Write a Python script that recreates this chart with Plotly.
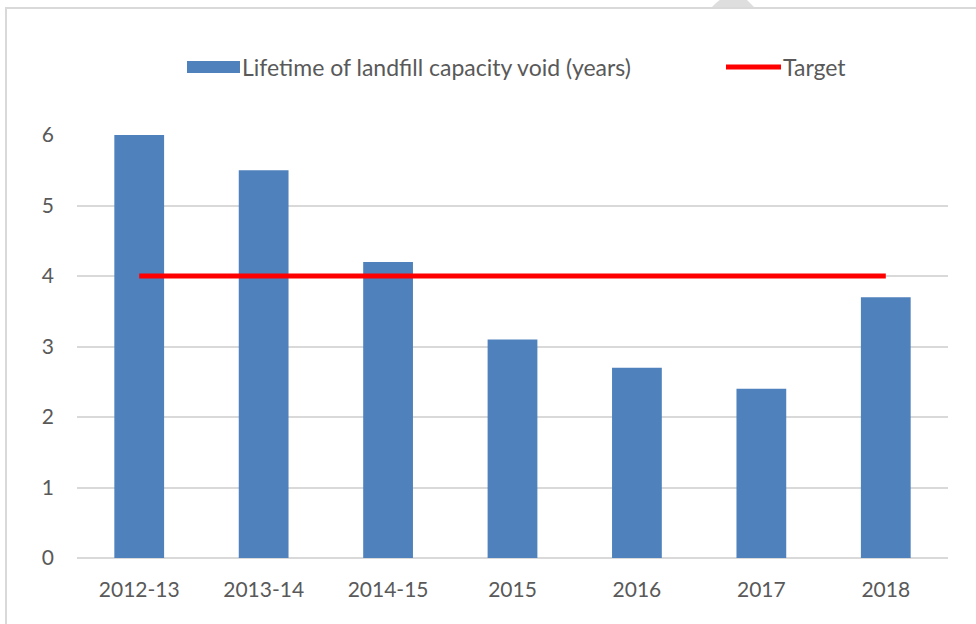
import plotly.graph_objects as go

categories = ["2012-13", "2013-14", "2014-15", "2015", "2016", "2017", "2018"]
lifetime = [6, 5.5, 4.2, 3.1, 2.7, 2.4, 3.7]
target = [4, 4, 4, 4, 4, 4, 4]
series_names = ["Lifetime of landfill capacity void (years)", "Target"]

W, H = 976, 624
L, R, T, B = 77, 28, 135, 66
pw, ph = W - L - R, H - T - B

def px(x):
    return (x - L) / pw

def py(y):
    return (H - B - y) / ph

font_family = "Lato, Carlito, Calibri, sans-serif"
grey = "#595959"

fig = go.Figure()
fig.add_trace(go.Bar(x=categories, y=lifetime, name=series_names[0],
                     marker=dict(color="#4f81bd", line=dict(width=0)),
                     showlegend=False))
fig.add_trace(go.Scatter(x=categories, y=target, name=series_names[1], mode="lines",
                         line=dict(color="#ff0000", width=5), showlegend=False))

shapes = [
    # chart border
    dict(type="rect", xref="paper", yref="paper", x0=px(6), x1=px(1100), y0=py(700), y1=py(8),
         line=dict(color="#d9d9d9", width=2), fillcolor="rgba(0,0,0,0)", layer="below"),
    # grey blob above the border
    dict(type="path", xref="paper", yref="paper",
         path=f"M{px(712)},{py(7)} L{px(716)},{py(3)} L{px(721)},{py(-1)} L{px(746)},{py(-1)} L{px(750)},{py(3)} L{px(754)},{py(7)} Z",
         fillcolor="#dedede", line=dict(width=0)),
    # legend symbols
    dict(type="rect", xref="paper", yref="paper", x0=px(187), x1=px(240), y0=py(73), y1=py(61),
         fillcolor="#4f81bd", line=dict(width=0)),
    dict(type="line", xref="paper", yref="paper", x0=px(726), x1=px(781), y0=py(67), y1=py(67),
         line=dict(color="#ff0000", width=5)),
]

annotations = [
    dict(text=series_names[0], xref="paper", yref="paper", x=px(240), y=py(67),
         xanchor="left", yanchor="middle", showarrow=False,
         font=dict(family=font_family, size=23, color=grey)),
    dict(text=series_names[1], xref="paper", yref="paper", x=px(781), y=py(67),
         xanchor="left", yanchor="middle", showarrow=False,
         font=dict(family=font_family, size=23, color=grey)),
]

fig.update_layout(
    width=W, height=H,
    margin=dict(l=L, r=R, t=T, b=B, pad=0),
    paper_bgcolor="white", plot_bgcolor="white",
    bargap=0.6,
    font=dict(family=font_family, size=21, color=grey),
    shapes=shapes, annotations=annotations,
    showlegend=False,
    xaxis=dict(showgrid=False, showline=False, ticks="", ticklabelstandoff=17,
               tickfont=dict(size=21, color=grey)),
    yaxis=dict(range=[0, 6], dtick=1, showgrid=True, gridcolor="#d9d9d9", gridwidth=1.5,
               zeroline=True, zerolinecolor="#d9d9d9", zerolinewidth=1.5,
               showline=False, ticks="", ticklabelstandoff=22,
               tickfont=dict(size=21, color=grey)),
)

fig.write_html("out.html", config={"displayModeBar": False},
               post_script="document.body.style.margin='0';document.body.style.overflow='hidden';")
